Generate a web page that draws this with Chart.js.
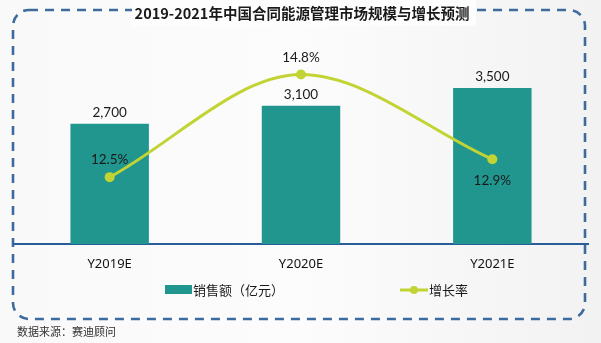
<!DOCTYPE html>
<html>
<head>
<meta charset="utf-8">
<script src="https://cdn.jsdelivr.net/npm/chart.js@4/dist/chart.umd.min.js"></script>
<style>
  html, body { margin: 0; padding: 0; background: #f7f7f7; }
  #wrap { width: 601px; height: 343px; position: relative; }
</style>
</head>
<body>
<div id="wrap"><canvas id="c" width="601" height="343"></canvas></div>
<script>
// Market size (100M CNY) and year-on-year growth, 2019–2021 estimates
const categories = ['Y2019E', 'Y2020E', 'Y2021E'];
const salesValues = [2700, 3100, 3500];
const growthRates = [12.5, 14.8, 12.9];
const salesLabel = '销售额（亿元）';
const growthLabel = '增长率';
const titleText = '2019-2021年中国合同能源管理市场规模与增长预测';
const sourceText = '数据来源：赛迪顾问';

const TEAL = '#21968f';
const LIME = '#c2d433';
const FRAME = '#3c6b9c';
const CJK = '"Noto Sans CJK SC", "Noto Sans", sans-serif';
const NUM = 'Lato, "Open Sans", sans-serif';

// Decorations: background, dashed rounded frame, title, legend, source note
const framePlugin = {
  id: 'frame',
  beforeDraw(chart) {
    const ctx = chart.ctx;
    ctx.save();
    const bg = ctx.createLinearGradient(0, 0, 601, 0);
    bg.addColorStop(0, '#f9f9f9');
    bg.addColorStop(0.5, '#fcfcfc');
    bg.addColorStop(1, '#f2f2f2');
    ctx.fillStyle = bg;
    ctx.fillRect(0, 0, 601, 343);

    // dashed rounded frame
    ctx.strokeStyle = FRAME;
    ctx.lineWidth = 2.6;
    ctx.setLineDash([9, 7]);
    ctx.beginPath();
    ctx.roundRect(13, 10, 572, 309, 16);
    ctx.stroke();
    ctx.setLineDash([]);

    // title on a light box that interrupts the frame
    ctx.fillStyle = '#fdfdfd';
    ctx.fillRect(132, 0, 344, 26);
    ctx.fillStyle = '#1a1a1a';
    ctx.font = 'bold 14.5px ' + CJK;
    ctx.textAlign = 'center';
    ctx.textBaseline = 'middle';
    ctx.fillText(titleText, 302, 13);

    // legend
    const ds = chart.data.datasets;
    const bar = ds.find(d => d.type === 'bar');
    const line = ds.find(d => d.type === 'line');
    ctx.fillStyle = bar.backgroundColor;
    ctx.fillRect(165, 285, 27, 9);
    ctx.strokeStyle = line.borderColor;
    ctx.lineWidth = 3;
    ctx.beginPath();
    ctx.moveTo(400, 290);
    ctx.lineTo(428, 290);
    ctx.stroke();
    ctx.fillStyle = line.borderColor;
    ctx.beginPath();
    ctx.arc(414, 290, 4, 0, Math.PI * 2);
    ctx.fill();
    ctx.fillStyle = '#1a1a1a';
    ctx.font = '13px ' + CJK;
    ctx.textAlign = 'left';
    ctx.fillText(bar.label, 193, 290);
    ctx.fillText(line.label, 429, 290);

    // source note
    ctx.fillStyle = '#333';
    ctx.font = '11px ' + CJK;
    ctx.fillText(sourceText, 17, 332);
    ctx.restore();
  }
};

// Value labels above bars, percentage labels beside line points
const valueLabels = {
  id: 'valueLabels',
  afterDatasetsDraw(chart, args, opts) {
    const ctx = chart.ctx;
    ctx.save();
    ctx.textAlign = 'center';
    ctx.textBaseline = 'middle';
    ctx.fillStyle = '#1a1a1a';
    ctx.font = '13.5px ' + NUM;
    chart.data.datasets.forEach((ds, di) => {
      const meta = chart.getDatasetMeta(di);
      meta.data.forEach((el, i) => {
        const v = ds.data[i];
        if (ds.type === 'bar') {
          ctx.fillText(v.toLocaleString('en-US'), el.x, el.y - 11);
        } else {
          const below = opts.growthPlacement[i] === 'below';
          ctx.fillText(v.toFixed(1) + '%', el.x, below ? el.y + 21 : el.y - 17);
        }
      });
    });
    ctx.restore();
  }
};

new Chart(document.getElementById('c'), {
  data: {
    labels: categories,
    datasets: [
      {
        type: 'line',
        label: growthLabel,
        data: growthRates,
        yAxisID: 'y2',
        borderColor: LIME,
        backgroundColor: LIME,
        borderWidth: 3,
        pointRadius: 5,
        pointBorderWidth: 0,
        pointBackgroundColor: LIME,
        cubicInterpolationMode: 'monotone',
        order: 0
      },
      {
        type: 'bar',
        label: salesLabel,
        data: salesValues,
        yAxisID: 'y',
        backgroundColor: TEAL,
        categoryPercentage: 1,
        barPercentage: 0.41,
        order: 1
      }
    ]
  },
  options: {
    responsive: false,
    animation: false,
    layout: { padding: { left: 14, right: 13, top: 30, bottom: 59.4 } },
    plugins: {
      legend: { display: false },
      title: { display: false },
      tooltip: { enabled: false },
      valueLabels: { growthPlacement: ['above', 'above', 'below'] }
    },
    scales: {
      x: {
        grid: { display: false, drawTicks: false },
        border: { display: true, color: '#2a5c9a', width: 2 },
        ticks: { color: '#111', padding: 12, font: { family: '"Noto Sans", sans-serif', size: 13, weight: 'normal' } }
      },
      y: { display: false, min: 0, max: 4800 },
      y2: { display: false, min: 11, max: 15.8 }
    }
  },
  plugins: [framePlugin, valueLabels]
});
</script>
</body>
</html>
